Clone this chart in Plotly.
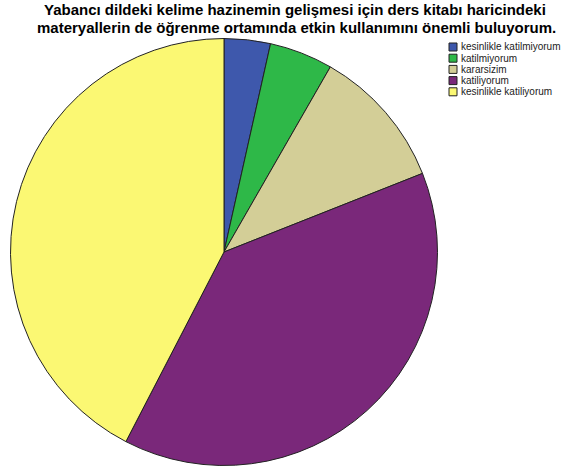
import plotly.graph_objects as go

W, H = 561, 470

categories = ["kesinlikle katilmiyorum", "katilmiyorum", "kararsizim",
              "katiliyorum", "kesinlikle katiliyorum"]
values = [3.5, 4.8, 10.7, 38.6, 42.4]
colors = ["#3e58ac", "#2eb848", "#d3ce97", "#7a287a", "#fbf873"]
title_lines = ["Yabancı dildeki kelime hazinemin gelişmesi için ders kitabı haricindeki",
               "materyallerin de öğrenme ortamında etkin kullanımını önemli buluyorum."]

def px(x):
    return x / W

def py(y):
    return 1 - y / H

cx, cy, r = 224, 252, 213.5

fig = go.Figure(go.Pie(
    labels=categories,
    values=values,
    marker=dict(colors=colors, line=dict(color="#222222", width=1)),
    sort=False,
    direction="clockwise",
    rotation=0,
    textinfo="none",
    hoverinfo="label+percent",
    showlegend=False,
    domain=dict(x=[px(cx - r), px(cx + r)], y=[py(cy + r), py(cy - r)]),
))

annotations = []
title_x = [295, 296]
title_y = [9.6, 27.2]
for i, line in enumerate(title_lines):
    annotations.append(dict(
        text="<b>" + line + "</b>", x=px(title_x[i]), y=py(title_y[i]),
        xref="paper", yref="paper", xanchor="center", yanchor="middle",
        showarrow=False, borderpad=0,
        font=dict(family="Liberation Sans, Arial", size=15, color="black"),
    ))

shapes = []
lx, ly0, step, sq = 449, 47, 11.2, 8
for i, (lab, col) in enumerate(zip(categories, colors)):
    yc = ly0 + i * step
    shapes.append(dict(
        type="rect", xref="paper", yref="paper",
        x0=px(lx), x1=px(lx + sq), y0=py(yc + sq / 2), y1=py(yc - sq / 2),
        fillcolor=col, line=dict(color="#222222", width=1),
    ))
    annotations.append(dict(
        text=lab, x=px(lx + sq + 3), y=py(yc),
        xref="paper", yref="paper", xanchor="left", yanchor="middle",
        showarrow=False, borderpad=0,
        font=dict(family="Liberation Sans, Arial", size=10, color="#222222"),
    ))

fig.update_layout(
    width=W, height=H,
    margin=dict(l=0, r=0, t=0, b=0),
    paper_bgcolor="white", plot_bgcolor="white",
    annotations=annotations, shapes=shapes,
)

fig.write_html("out.html", config={"displayModeBar": False},
               post_script="document.body.style.margin='0px';")
